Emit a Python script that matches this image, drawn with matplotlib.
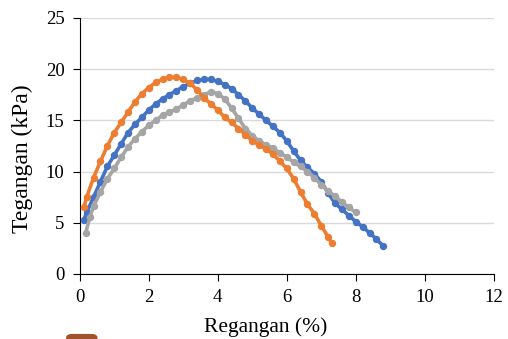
import matplotlib
matplotlib.use("Agg")
import matplotlib.pyplot as plt
from matplotlib.patches import FancyBboxPatch

plt.rcParams['font.family'] = ['Liberation Serif', 'DejaVu Serif']

# regangan (%) vs tegangan (kPa)
x_blue = [0.12, 0.2, 0.4, 0.6, 0.8, 1.0, 1.2, 1.4, 1.6, 1.8, 2.0, 2.2, 2.4, 2.6, 2.8,
          3.0, 3.2, 3.4, 3.6, 3.8, 4.0, 4.2, 4.4, 4.6, 4.8, 5.0, 5.2, 5.4, 5.6, 5.8,
          6.0, 6.2, 6.4, 6.6, 6.8, 7.0, 7.2, 7.4, 7.6, 7.8, 8.0, 8.2, 8.4, 8.6, 8.8]
y_blue = [5.3, 6.0, 7.5, 9.0, 10.5, 11.6, 12.7, 13.8, 14.6, 15.3, 16.0, 16.6, 17.1, 17.5, 17.9,
          18.3, 18.6, 18.9, 19.0, 19.0, 18.8, 18.5, 18.1, 17.5, 16.9, 16.2, 15.6, 15.0, 14.4, 13.8,
          13.0, 12.0, 11.1, 10.4, 9.8, 9.0, 7.9, 6.9, 6.3, 5.7, 5.1, 4.6, 4.0, 3.4, 2.7]

x_orange = [0.12, 0.2, 0.4, 0.6, 0.8, 1.0, 1.2, 1.4, 1.6, 1.8, 2.0, 2.2, 2.4, 2.6, 2.8,
            3.0, 3.2, 3.4, 3.6, 3.8, 4.0, 4.2, 4.4, 4.6, 4.8, 5.0, 5.2, 5.4, 5.6, 5.8,
            6.0, 6.2, 6.4, 6.6, 6.8, 7.0, 7.2, 7.3]
y_orange = [6.5, 7.5, 9.4, 11.0, 12.5, 13.8, 14.8, 15.8, 16.8, 17.6, 18.2, 18.7, 19.0, 19.2, 19.2,
            19.0, 18.6, 18.0, 17.2, 16.6, 16.0, 15.3, 14.8, 14.2, 13.6, 13.0, 12.6, 12.2, 11.7, 11.0,
            10.3, 9.3, 8.0, 6.8, 5.9, 4.7, 3.6, 3.0]

x_gray = [0.17, 0.3, 0.4, 0.6, 0.8, 1.0, 1.2, 1.4, 1.6, 1.8, 2.0, 2.2, 2.4, 2.6, 2.8,
          3.0, 3.2, 3.4, 3.6, 3.8, 4.0, 4.2, 4.4, 4.6, 4.8, 5.0, 5.2, 5.4, 5.6, 5.8,
          6.0, 6.2, 6.4, 6.6, 6.8, 7.0, 7.2, 7.4, 7.6, 7.8, 8.0]
y_gray = [4.0, 5.6, 6.6, 8.0, 9.3, 10.3, 11.4, 12.4, 13.2, 13.9, 14.5, 15.0, 15.5, 15.8, 16.1,
          16.5, 16.9, 17.2, 17.5, 17.8, 17.6, 17.1, 16.2, 15.2, 14.2, 13.5, 13.0, 12.6, 12.3, 11.8,
          11.4, 10.9, 10.5, 10.0, 9.4, 8.7, 8.1, 7.6, 7.0, 6.5, 6.0]

x_ticks = [0, 2, 4, 6, 8, 10, 12]
y_ticks = [0, 5, 10, 15, 20, 25]

fig = plt.figure(figsize=(5.08, 3.39), dpi=100)
ax = fig.add_axes([0.157, 0.192, 0.815, 0.755])

ax.plot(x_blue, y_blue, '-o', color='#4472C4', lw=2.6, ms=4.3, zorder=3)
ax.plot(x_orange, y_orange, '-o', color='#ED7D31', lw=2.6, ms=4.3, zorder=4)
ax.plot(x_gray, y_gray, '-o', color='#A5A5A5', lw=2.6, ms=4.3, zorder=3)

ax.set_xlim(0, 12)
ax.set_ylim(0, 25)
ax.set_xticks(x_ticks)
ax.set_yticks(y_ticks)
ax.yaxis.grid(True, color='#D9D9D9', lw=1)
ax.set_axisbelow(True)
for s in ['top', 'right']:
    ax.spines[s].set_visible(False)
ax.spines['left'].set_color('black')
ax.spines['bottom'].set_color('black')
ax.tick_params(direction='out', length=5, pad=6, labelsize=13.5, colors='black')

ax.set_xlabel('Regangan (%)', fontsize=15.5, labelpad=5)
ax.xaxis.set_label_coords(0.45, -0.17)
ax.set_ylabel('Tegangan (kPa)', fontsize=17)
ax.yaxis.set_label_coords(-0.113, 0.45)

# cut-off legend marker at the bottom edge
fig.patches.append(FancyBboxPatch((0.13, -0.03), 0.062, 0.045, boxstyle='round,pad=0,rounding_size=0.012',
                                  transform=fig.transFigure, facecolor='#A0522D', edgecolor='none'))

fig.savefig('out.png', dpi=100)
